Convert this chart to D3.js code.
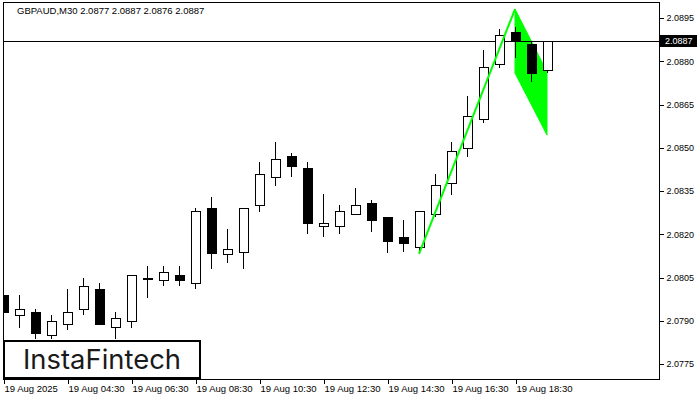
<!DOCTYPE html>
<html>
<head>
<meta charset="utf-8">
<script src="https://cdn.jsdelivr.net/npm/d3@7/dist/d3.min.js"></script>
<style>
html,body{margin:0;padding:0;background:#fff;}
svg{display:block;}
</style>
</head>
<body>
<svg id="chart" width="700" height="400"></svg>
<script>
// ---- data (GBPAUD, M30) ----
const openP  = [2.0799, 2.07921, 2.07932, 2.07852, 2.0789, 2.07942, 2.08011, 2.0788, 2.0790, 2.08048, 2.08042, 2.0806, 2.08032, 2.08292, 2.08132, 2.0814, 2.08302, 2.08399, 2.08472, 2.0843, 2.0823, 2.0823, 2.08271, 2.08309, 2.08261, 2.08191, 2.08157, 2.08271, 2.08378, 2.0850, 2.0860, 2.08791, 2.08902, 2.0886, 2.0877];
const highP  = [2.0799, 2.0799, 2.07942, 2.07921, 2.08011, 2.0805, 2.08032, 2.07932, 2.0806, 2.08091, 2.08091, 2.08091, 2.08292, 2.0833, 2.08219, 2.08292, 2.08451, 2.0852, 2.08482, 2.08451, 2.0834, 2.08302, 2.08361, 2.0832, 2.0826, 2.0825, 2.0828, 2.0841, 2.0852, 2.0868, 2.08839, 2.08912, 2.08919, 2.0887, 2.0887];
const lowP   = [2.07873, 2.07876, 2.07838, 2.07835, 2.07869, 2.07921, 2.0789, 2.07835, 2.07876, 2.0798, 2.08022, 2.08022, 2.08011, 2.0808, 2.08101, 2.0808, 2.08278, 2.08368, 2.08399, 2.08202, 2.08191, 2.08202, 2.08271, 2.08209, 2.08136, 2.08137, 2.08132, 2.0826, 2.08337, 2.08468, 2.08586, 2.08777, 2.08811, 2.08728, 2.0876];
const closeP = [2.07932, 2.07942, 2.07859, 2.0790, 2.07932, 2.08022, 2.0789, 2.07911, 2.0806, 2.0805, 2.0807, 2.08042, 2.08281, 2.08136, 2.0815, 2.08292, 2.0841, 2.08462, 2.08437, 2.0824, 2.0824, 2.08281, 2.08302, 2.0825, 2.08177, 2.08171, 2.08281, 2.08371, 2.08489, 2.0861, 2.0878, 2.08891, 2.0887, 2.0876, 2.0887];

const xTickIndex  = [0, 4, 8, 12, 16, 20, 24, 28, 32];
const xTickLabels = ["19 Aug 2025", "19 Aug 04:30", "19 Aug 06:30", "19 Aug 08:30", "19 Aug 10:30", "19 Aug 12:30", "19 Aug 14:30", "19 Aug 16:30", "19 Aug 18:30"];
const priceTicks  = [2.0895, 2.0880, 2.0865, 2.0850, 2.0835, 2.0820, 2.0805, 2.0790, 2.0775];

const titleText = "GBPAUD,M30  2.0877 2.0887 2.0876 2.0887";
const lastPrice = 2.0887;

// flag pattern (bar index, price)
const flagPole  = [[26, 2.08132], [32, 2.08981]];
const flagShape = [[32, 2.08981], [34, 2.08763], [34, 2.08544], [32, 2.08759]];

// ---- layout ----
const svg = d3.select("#chart");
const pLeft = 3, pTop = 2, pRight = 659, pBottom = 379;
const n = openP.length;
const x = d3.scaleLinear().domain([0, n - 1]).range([3, 3 + 16 * (n - 1)]);
const y = d3.scaleLinear().domain([2.0775, 2.0895]).range([364, 18]);
const font = "'Liberation Sans', Arial, sans-serif";

svg.append("defs").append("clipPath").attr("id", "plotclip")
  .append("rect").attr("x", pLeft).attr("y", pTop).attr("width", pRight - pLeft).attr("height", pBottom - pTop);

const plot = svg.append("g").attr("clip-path", "url(#plotclip)");

// flag polygon (background)
plot.append("path")
  .attr("d", d3.line().x(d => x(d[0])).y(d => y(d[1]))(flagShape) + "Z")
  .attr("fill", "#00ff00").attr("stroke", "#00ff00").attr("stroke-width", 1);

// price line
plot.append("line")
  .attr("x1", pLeft).attr("x2", pRight)
  .attr("y1", Math.round(y(lastPrice)) + 0.5).attr("y2", Math.round(y(lastPrice)) + 0.5)
  .attr("stroke", "#000").attr("stroke-width", 1).attr("shape-rendering", "crispEdges");

// candles
const idx = d3.range(n);
const cg = plot.append("g").attr("shape-rendering", "crispEdges");
cg.selectAll("line.wick").data(idx).join("line")
  .attr("class", "wick")
  .attr("x1", i => Math.round(x(i)) + 0.5).attr("x2", i => Math.round(x(i)) + 0.5)
  .attr("y1", i => Math.round(y(highP[i]))).attr("y2", i => Math.round(y(lowP[i])))
  .attr("stroke", "#000").attr("stroke-width", 1);
cg.selectAll("rect.body").data(idx).join("rect")
  .attr("class", "body")
  .attr("x", i => Math.round(x(i)) - 4 + 0.5)
  .attr("width", 9)
  .attr("y", i => Math.round(y(Math.max(openP[i], closeP[i]))) + 0.5)
  .attr("height", i => Math.max(1, Math.round(y(Math.min(openP[i], closeP[i]))) - Math.round(y(Math.max(openP[i], closeP[i])))))
  .attr("fill", i => closeP[i] >= openP[i] ? "#fff" : "#000")
  .attr("stroke", "#000").attr("stroke-width", 1);

// flag pole line (foreground)
plot.append("path")
  .attr("d", d3.line().x(d => x(d[0])).y(d => y(d[1]))(flagPole))
  .attr("fill", "none").attr("stroke", "#00ff00").attr("stroke-width", 2);

// frame
svg.append("rect")
  .attr("x", pLeft + 0.5).attr("y", pTop + 0.5)
  .attr("width", pRight - pLeft).attr("height", pBottom - pTop)
  .attr("fill", "none").attr("stroke", "#000").attr("stroke-width", 1)
  .attr("shape-rendering", "crispEdges");

// right price axis
const ya = svg.append("g").attr("transform", `translate(${pRight + 0.5},0)`)
  .call(d3.axisRight(y).tickValues(priceTicks).tickFormat(d3.format(".4f")).tickSize(4).tickPadding(3));
ya.select(".domain").remove();
ya.selectAll("line").attr("shape-rendering", "crispEdges").attr("stroke", "#000");
ya.selectAll("text").attr("font-family", font).attr("font-size", "9px").attr("fill", "#000");

// bottom time axis
const xa = svg.append("g").attr("transform", `translate(0,${pBottom + 0.5})`)
  .call(d3.axisBottom(x).tickValues(xTickIndex).tickFormat((d, i) => xTickLabels[i]).tickSize(4).tickPadding(3));
xa.select(".domain").remove();
xa.selectAll(".tick line").attr("shape-rendering", "crispEdges").attr("stroke", "#000").attr("transform", "translate(0.5,0)");
xa.selectAll("text").attr("font-family", font).attr("font-size", "9.5px").attr("fill", "#000")
  .attr("text-anchor", "start").attr("x", 1).attr("y", 6);

// last price label
const ly = Math.round(y(lastPrice));
svg.append("rect").attr("x", 660).attr("y", ly - 6).attr("width", 37).attr("height", 12).attr("fill", "#000");
svg.append("text").attr("x", 665).attr("y", ly).attr("dy", "0.35em")
  .attr("font-family", font).attr("font-size", "9px").attr("fill", "#fff").text(d3.format(".4f")(lastPrice));

// title
svg.append("text").attr("x", 17).attr("y", 11).attr("dy", "0.35em")
  .attr("font-family", font).attr("font-size", "9.5px").attr("fill", "#000").text(titleText);

// logo box
svg.append("rect").attr("x", 4).attr("y", 341).attr("width", 196).attr("height", 37)
  .attr("fill", "#fff").attr("stroke", "#000").attr("stroke-width", 2);
svg.append("text").attr("x", 23).attr("y", 369)
  .attr("font-family", "Inter, 'Open Sans', sans-serif").attr("font-weight", 400)
  .attr("font-size", "27px").attr("fill", "#1a1a1a")
  .attr("textLength", 158).attr("lengthAdjust", "spacingAndGlyphs")
  .text("InstaFintech");
</script>
</body>
</html>
